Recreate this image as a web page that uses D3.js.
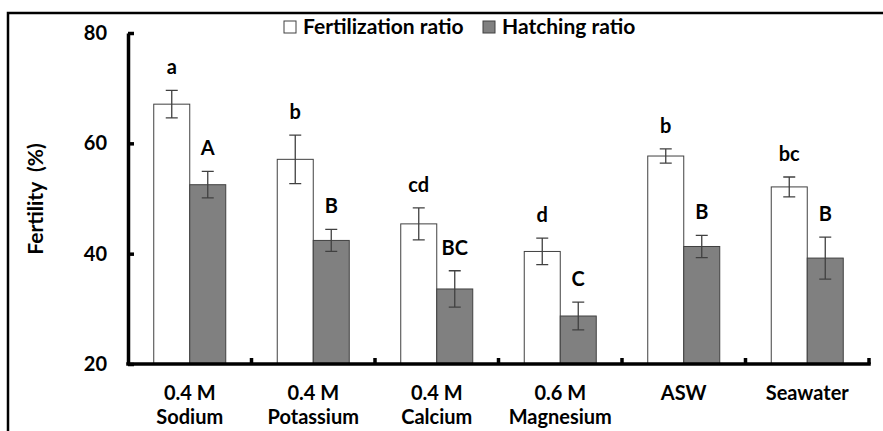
<!DOCTYPE html>
<meta charset="utf-8">
<script src="https://cdn.jsdelivr.net/npm/d3@7"></script>
<style>
body { margin: 0; background: #fff; }
text { font-family: Lato, "Open Sans", sans-serif; font-weight: bold; fill: #000; }
.bar { stroke: #404040; stroke-width: 1px; }
.err { stroke: #404040; stroke-width: 1.3px; }
</style>
<body>
<script>

// data
var categories = [["0.4 M", "Sodium"], ["0.4 M", "Potassium"], ["0.4 M", "Calcium"],
                  ["0.6 M", "Magnesium"], ["ASW"], ["Seawater"]];
var series = ["Fertilization ratio", "Hatching ratio"];
var fertilization = [67.1, 57.1, 45.4, 40.4, 57.7, 52.1];
var fertErr = [2.5, 4.4, 2.9, 2.4, 1.3, 1.8];
var hatching = [52.5, 42.4, 33.6, 28.7, 41.3, 39.2];
var hatchErr = [2.4, 2.0, 3.3, 2.5, 2.0, 3.8];
var fertLetters = ["a", "b", "cd", "d", "b", "bc"];
var hatchLetters = ["A", "B", "BC", "C", "B", "B"];
var yTicks = [20, 40, 60, 80];
var colours = ["#ffffff", "#808080"];

var width = 883, height = 431;
var plotLeft = 128, plotRight = 869, plotTop = 33, plotBottom = 364;

var svg = d3.select("body").append("svg")
    .attr("width", width)
    .attr("height", height);

// outer frame (runs off the picture on right/bottom)
svg.append("rect")
    .attr("x", 8).attr("y", 13)
    .attr("width", 1000).attr("height", 1000)
    .attr("fill", "none").attr("stroke", "#000").attr("stroke-width", 2.5);

var idx = d3.range(categories.length);

var x0 = d3.scaleBand()
    .domain(idx)
    .range([plotLeft, plotRight])
    .paddingInner(0.417)
    .paddingOuter(0.2085);

var x1 = d3.scaleBand()
    .domain([0, 1])
    .range([0, x0.bandwidth()]);

var y = d3.scaleLinear().domain([20, 80]).range([plotBottom, plotTop]);

var rows = idx.map(function(i) {
  return [
    {s: 0, i: i, v: fertilization[i], e: fertErr[i], t: fertLetters[i]},
    {s: 1, i: i, v: hatching[i], e: hatchErr[i], t: hatchLetters[i]}
  ];
});

var group = svg.append("g").selectAll("g")
    .data(rows)
  .enter().append("g")
    .attr("transform", function(d, i) { return "translate(" + x0(i) + ",0)"; });

var cell = group.selectAll("g")
    .data(function(d) { return d; })
  .enter().append("g");

cell.append("rect")
    .attr("class", "bar")
    .attr("x", function(d) { return x1(d.s); })
    .attr("y", function(d) { return y(d.v); })
    .attr("width", x1.bandwidth())
    .attr("height", function(d) { return y(20) - y(d.v); })
    .attr("fill", function(d) { return colours[d.s]; });

// error bars
var cap = 6;
cell.append("path")
    .attr("class", "err")
    .attr("fill", "none")
    .attr("d", function(d) {
      var cx = x1(d.s) + x1.bandwidth() / 2,
          y1 = y(d.v + d.e), y2 = y(d.v - d.e);
      return "M" + cx + "," + y1 + "V" + y2 +
             "M" + (cx - cap) + "," + y1 + "H" + (cx + cap) +
             "M" + (cx - cap) + "," + y2 + "H" + (cx + cap);
    });

// significance letters
cell.append("text")
    .attr("x", function(d) { return x1(d.s) + x1.bandwidth() / 2; })
    .attr("y", function(d) { return y(d.v + d.e) - 16; })
    .attr("text-anchor", "middle")
    .style("font-size", "20px")
    .text(function(d) { return d.t; });

// y axis
var yAxis = d3.axisLeft(y)
    .tickValues(yTicks)
    .tickSizeInner(-6)
    .tickSizeOuter(0)
    .tickPadding(21);

var ya = svg.append("g")
    .attr("transform", "translate(" + plotLeft + ",0)")
    .call(yAxis);
ya.select(".domain").attr("stroke-width", 3.5);
ya.selectAll(".tick line").attr("stroke-width", 3.5);
ya.selectAll(".tick text")
    .style("font-family", "Lato, sans-serif")
    .style("font-weight", "bold")
    .style("font-size", "20px");

// x axis line + ticks between categories
svg.append("line")
    .attr("x1", plotLeft - 1.75).attr("x2", plotRight + 1.75)
    .attr("y1", plotBottom).attr("y2", plotBottom)
    .attr("stroke", "#000").attr("stroke-width", 3.5);

svg.append("g").selectAll("line")
    .data(d3.range(1, categories.length + 1))
  .enter().append("line")
    .attr("x1", function(i) { return plotLeft + i * x0.step(); })
    .attr("x2", function(i) { return plotLeft + i * x0.step(); })
    .attr("y1", plotBottom).attr("y2", plotBottom - 6)
    .attr("stroke", "#000").attr("stroke-width", 3.5);

// category labels
var lab = svg.append("g").selectAll("text")
    .data(categories)
  .enter().append("text")
    .attr("x", function(d, i) { return x0(i) + x0.bandwidth() / 2; })
    .attr("y", 400)
    .attr("text-anchor", "middle")
    .style("font-size", "20px");

lab.selectAll("tspan")
    .data(function(d) { return d; })
  .enter().append("tspan")
    .attr("x", function() { return d3.select(this.parentNode).attr("x"); })
    .attr("dy", function(d, j) { return j ? 24 : 0; })
    .text(function(d) { return d; });

// y title
svg.append("text")
    .attr("transform", "translate(43,199) rotate(-90)")
    .attr("text-anchor", "middle")
    .style("font-size", "21px")
    .text("Fertility\u00a0\u00a0(%)");

// legend
var legend = svg.append("g").selectAll("g")
    .data(series)
  .enter().append("g")
    .attr("transform", function(d, i) { return "translate(" + [284, 483][i] + ",21)"; });

legend.append("rect")
    .attr("width", 12).attr("height", 12)
    .attr("fill", function(d, i) { return colours[i]; })
    .attr("stroke", "#404040");

legend.append("text")
    .attr("x", 19).attr("y", 13)
    .style("font-size", "21px")
    .text(function(d) { return d; });

</script>
</body>
</html>
